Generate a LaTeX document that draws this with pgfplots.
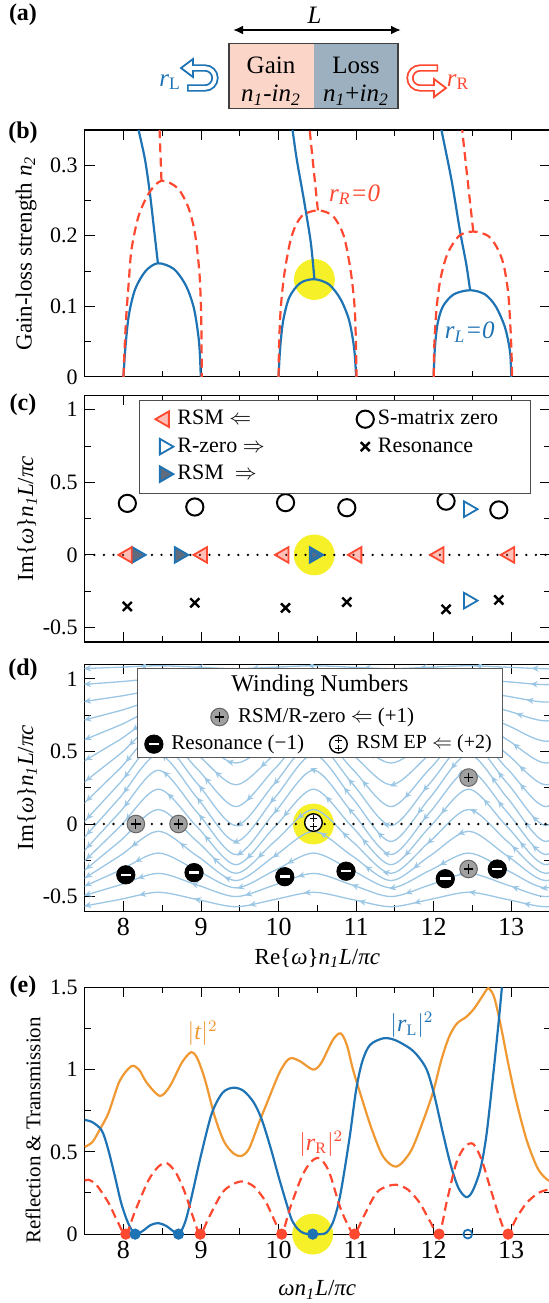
\documentclass[border=0pt]{standalone}
\usepackage{fontspec}
\setmainfont{Liberation Serif}
\usepackage{amsmath}
\usepackage{pgfplots}
\pgfplotsset{compat=1.18}
\usepackage{pgfplotstable}
\usetikzlibrary{arrows.meta,decorations.markings}

\definecolor{cblue}{RGB}{30,115,180}
\definecolor{cred}{RGB}{255,72,48}
\definecolor{corange}{RGB}{240,152,50}
\definecolor{cyel}{RGB}{246,240,40}
\definecolor{cstream}{RGB}{155,198,228}
\definecolor{cgraym}{RGB}{160,160,160}
\definecolor{cdark}{RGB}{95,108,125}
\definecolor{gainc}{RGB}{250,213,200}
\definecolor{lossc}{RGB}{156,176,192}

\newcommand\fs[1]{\fontsize{#1}{#1}\selectfont}

\pgfplotsset{
  panel/.style={
    scale only axis, width=232.65pt, height=123.4pt,
    xmin=7.5, xmax=13.5, xtick={8,9,10,11,12,13}, minor x tick num=1,
    tick align=inside, clip marker paths=true,
    axis line style={line width=0.55pt},
    every tick/.append style={black, line width=0.5pt},
    major tick length=5pt, minor tick length=3pt,
    /pgf/number format/assume math mode=true,
    yticklabel style={font=\fs{11}},
    xticklabel style={font=\fs{13}},
    ylabel style={font=\fs{11.5}, at={(axis description cs:-0.125,0.5)}, anchor=center},
    xlabel style={font=\fs{11.5}, anchor=center},
  },
  yellowdot/.style={only marks, mark=*, mark size=10pt, color=cyel, forget plot},
  bl/.style={cblue, line width=1.1pt, smooth, no markers, forget plot},
  rd/.style={cred, line width=1.1pt, smooth, no markers, forget plot, dash pattern=on 4.5pt off 2.6pt},
  zeroline/.style={black, line width=1.3pt, dash pattern=on 0pt off 4.8pt, line cap=round, no markers, forget plot},
  rsmL/.style={only marks, mark=triangle*, mark size=4.5pt,
    mark options={rotate=90, draw=cred, fill=cred, fill opacity=0.35, line width=0.9pt}},
  rzero/.style={only marks, mark=triangle*, mark size=4.5pt,
    mark options={rotate=-90, draw=cblue, fill=white, line width=0.9pt}},
  rsmR/.style={only marks, mark=triangle*, mark size=4.5pt,
    mark options={rotate=-90, draw=cblue, fill=cdark, line width=0.9pt}},
  szero/.style={only marks, mark=o, mark size=4.3pt, mark options={draw=black, line width=1pt}},
  reson/.style={only marks, mark=x, mark size=3.2pt, mark options={draw=black, line width=1.2pt}},
  wplus/.style={only marks, mark=*, mark size=4.4pt, forget plot,
    mark options={fill=cgraym, draw=black!60, line width=0.5pt}},
  wplusin/.style={only marks, mark=+, mark size=2.4pt, forget plot, mark options={black, line width=0.6pt}},
  wres/.style={only marks, mark=*, mark size=4.6pt, black, forget plot},
  wresin/.style={only marks, mark=-, mark size=2.6pt, forget plot, mark options={white, line width=1.3pt}},
  wep/.style={only marks, mark=*, mark size=4.4pt, forget plot, mark options={fill=white, draw=black, line width=0.7pt}},
  wepup/.style={only marks, mark=+, mark size=1.6pt, forget plot, mark options={black, line width=0.4pt, yshift=2pt}},
  wepdn/.style={only marks, mark=+, mark size=1.6pt, forget plot, mark options={black, line width=0.4pt, yshift=-2pt}},
  stream/.style={cstream, line width=0.65pt, smooth, no markers, forget plot,
    postaction={decorate}, decoration={markings,
      mark=between positions 0.02 and 0.99 step 28pt with {\arrow{Stealth[length=3.4pt,width=3.2pt,reversed]}}}},
}

% streamlines of the phase field (read off by eye: crest/trough levels)
\pgfplotstableread{
x     l1   l2   l3   l4   l5   l6   l7   l8   l9    l10   l11   l12   l13   l14   l15   l16   l17
7.45  1.07 0.96 0.84 0.71 0.57 0.42 0.27 0.12 -0.01 -0.12 -0.21 -0.28 -0.34 -0.39 -0.44 -0.50 -0.57
7.95  1.08 0.98 0.88 0.78 0.68 0.58 0.48 0.38 0.28  0.18  0.08 -0.02 -0.12 -0.22 -0.32 -0.42 -0.52
8.45  1.09 1.00 0.92 0.85 0.79 0.74 0.69 0.64 0.57  0.48  0.37  0.24  0.10 -0.05 -0.20 -0.34 -0.47
8.95  1.08 0.98 0.88 0.78 0.68 0.58 0.48 0.38 0.28  0.18  0.08 -0.02 -0.12 -0.22 -0.32 -0.42 -0.52
9.45  1.07 0.96 0.84 0.71 0.57 0.42 0.27 0.12 -0.01 -0.12 -0.21 -0.28 -0.34 -0.39 -0.44 -0.50 -0.57
9.95  1.08 0.98 0.88 0.78 0.68 0.58 0.48 0.38 0.28  0.18  0.08 -0.02 -0.12 -0.22 -0.32 -0.42 -0.52
10.45 1.09 1.00 0.92 0.85 0.79 0.74 0.69 0.64 0.57  0.48  0.37  0.24  0.10 -0.05 -0.20 -0.34 -0.47
10.95 1.08 0.98 0.88 0.78 0.68 0.58 0.48 0.38 0.28  0.18  0.08 -0.02 -0.12 -0.22 -0.32 -0.42 -0.52
11.45 1.07 0.96 0.84 0.71 0.57 0.42 0.27 0.12 -0.01 -0.12 -0.21 -0.28 -0.34 -0.39 -0.44 -0.50 -0.57
11.95 1.08 0.98 0.88 0.78 0.68 0.58 0.48 0.38 0.28  0.18  0.08 -0.02 -0.12 -0.22 -0.32 -0.42 -0.52
12.45 1.09 1.00 0.92 0.85 0.79 0.74 0.69 0.64 0.57  0.48  0.37  0.24  0.10 -0.05 -0.20 -0.34 -0.47
12.95 1.08 0.98 0.88 0.78 0.68 0.58 0.48 0.38 0.28  0.18  0.08 -0.02 -0.12 -0.22 -0.32 -0.42 -0.52
13.45 1.07 0.96 0.84 0.71 0.57 0.42 0.27 0.12 -0.01 -0.12 -0.21 -0.28 -0.34 -0.39 -0.44 -0.50 -0.57
13.95 1.08 0.98 0.88 0.78 0.68 0.58 0.48 0.38 0.28  0.18  0.08 -0.02 -0.12 -0.22 -0.32 -0.42 -0.52
}\streamtab

\begin{document}
\begin{tikzpicture}

% ---------- panel (a): schematic, in image pixels ----------
\begin{scope}[x=0.5pt,y=-0.5pt]
  \node[font=\fs{12}\bfseries] at (23,15) {(a)};
  \draw[line width=1pt, {Latex[length=5pt,width=4.5pt]}-{Latex[length=5pt,width=4.5pt]}] (233,30) -- (401,30);
  \node[font=\fs{12.5}] at (314.6,15) {\textit{L}};
  \fill[gainc] (229,43.3) rectangle (313.5,108.3);
  \fill[lossc] (313.5,43.3) rectangle (398,108.3);
  \draw[black!75, line width=0.6pt] (229,43.3) rectangle (398,108.3);
  \node[font=\fs{12.5}] at (271,65) {Gain};
  \node[font=\fs{12.5}] at (271,95) {\textit{n}\textsubscript{\textit{1}}-\textit{in}\textsubscript{\textit{2}}};
  \node[font=\fs{12.5}] at (356,65) {Loss};
  \node[font=\fs{12.5}] at (356,95) {\textit{n}\textsubscript{\textit{1}}+\textit{in}\textsubscript{\textit{2}}};
  % r_L hollow u-turn arrow
  \draw[cblue, line width=3.6pt] (187,88) -- (205,88) arc[start angle=90, end angle=-90, radius=10] -- (193,68);
  \draw[white, line width=1.8pt] (188.5,88) -- (205,88) arc[start angle=90, end angle=-90, radius=10] -- (194,68);
  \filldraw[fill=white, draw=cblue, line width=0.9pt] (181,68) -- (193,59) -- (193,77) -- cycle;
  \draw[white, line width=1.8pt] (192.3,68) -- (196,68);
  \node[cblue, font=\fs{12.5}] at (170,82) {\textit{r}\textsubscript{L}};
  % r_R hollow u-turn arrow
  \draw[cred, line width=3.6pt] (438,68) -- (420,68) arc[start angle=-90, end angle=-270, radius=10] -- (434,88);
  \draw[white, line width=1.8pt] (436.5,68) -- (420,68) arc[start angle=-90, end angle=-270, radius=10] -- (433,88);
  \filldraw[fill=white, draw=cred, line width=0.9pt] (446,88) -- (434,79) -- (434,97) -- cycle;
  \draw[white, line width=1.8pt] (430,88) -- (434.7,88);
  \node[cred, font=\fs{12.5}] at (458,82) {\textit{r}\textsubscript{R}};
  % panel letters
  \node[font=\fs{12}\bfseries] at (23,133) {(b)};
  \node[font=\fs{12}\bfseries] at (23,405) {(c)};
  \node[font=\fs{12}\bfseries] at (23,670) {(d)};
  \node[font=\fs{12}\bfseries] at (23,987) {(e)};
\end{scope}

% ---------- panel (b) ----------
\begin{axis}[panel, at={(42.35pt,-65pt)}, anchor=north west,
  ymin=0, ymax=0.35, ytick={0,0.1,0.2,0.3}, minor y tick num=1,
  xticklabels={},
  ylabel={Gain-loss strength \textit{n}\textsubscript{\textit{2}}},
  ylabel style={at={(axis description cs:-0.126,0.5)}}]
  \addplot[yellowdot] coordinates {(10.462,0.138)};
  % r_L = 0
  \addplot[bl] coordinates {(8.0,0) (8.023,0.039) (8.068,0.0865) (8.15,0.124) (8.286,0.150) (8.444,0.161)
    (8.648,0.153) (8.807,0.129) (8.911,0.0959) (8.975,0.0487) (8.997,0)};
  \addplot[bl] coordinates {(8.444,0.161) (8.399,0.2046) (8.34,0.261) (8.277,0.3085) (8.195,0.35) (8.177,0.36)};
  \addplot[bl] coordinates {(10.0,0) (10.02,0.04) (10.06,0.08) (10.14,0.113) (10.28,0.133) (10.462,0.1384)
    (10.65,0.131) (10.8,0.11) (10.91,0.08) (10.975,0.04) (11.0,0)};
  \addplot[bl] coordinates {(10.462,0.1384) (10.416,0.19) (10.325,0.252) (10.235,0.308) (10.18,0.35) (10.162,0.36)};
  \addplot[bl] coordinates {(12.0,0) (12.015,0.04) (12.05,0.075) (12.12,0.1) (12.26,0.117) (12.47,0.1228)
    (12.66,0.117) (12.8,0.1) (12.92,0.07) (12.985,0.035) (13.0,0)};
  \addplot[bl] coordinates {(12.47,0.1228) (12.42,0.16) (12.339,0.207) (12.232,0.278) (12.10,0.35) (12.08,0.36)};
  % r_R = 0
  \addplot[rd] coordinates {(8.0,0) (8.014,0.039) (8.036,0.0865) (8.068,0.134) (8.104,0.181) (8.195,0.228)
    (8.331,0.261) (8.49,0.278) (8.694,0.268) (8.83,0.242) (8.92,0.2046) (8.979,0.148) (9.002,0.0865) (9.01,0)};
  \addplot[rd] coordinates {(8.49,0.278) (8.467,0.346) (8.465,0.36)};
  \addplot[rd] coordinates {(10.0,0) (10.008,0.05) (10.03,0.1) (10.08,0.15) (10.17,0.2) (10.3,0.228)
    (10.507,0.236) (10.7,0.228) (10.84,0.2) (10.93,0.15) (10.98,0.1) (10.997,0.05) (11.005,0)};
  \addplot[rd] coordinates {(10.507,0.236) (10.407,0.344) (10.40,0.36)};
  \addplot[rd] coordinates {(12.0,0) (12.01,0.05) (12.04,0.1) (12.09,0.14) (12.18,0.175) (12.33,0.2)
    (12.511,0.206) (12.7,0.2) (12.813,0.184) (12.9,0.16) (12.96,0.12) (12.99,0.07) (13.005,0.03) (13.01,0)};
  \addplot[rd] coordinates {(12.511,0.206) (12.374,0.344) (12.37,0.36)};
  \node[cred, font=\fs{12.5}] at (axis cs:10.98,0.258) {\textit{r}\textsubscript{\textit{R}}\textit{=0}};
  \node[cblue, font=\fs{12.5}] at (axis cs:12.465,0.063) {\textit{r}\textsubscript{\textit{L}}\textit{=0}};
\end{axis}

% ---------- panel (c) ----------
\begin{axis}[panel, at={(42.35pt,-197.6pt)}, anchor=north west,
  ymin=-0.6, ymax=1.1, ytick={-0.5,0,0.5,1}, minor y tick num=1,
  xticklabels={},
  ylabel={Im\{\textit{ω}\}\textit{n}\textsubscript{\textit{1}}\textit{L}/\textit{πc}},
  ylabel style={at={(axis description cs:-0.124,0.5)}},
  legend columns=2, legend cell align=left,
  legend style={at={(0.1167,0.9806)}, anchor=north west, draw=black!70, fill=white,
    font=\fs{11}, inner xsep=8pt, inner ysep=3pt, row sep=1pt,
    /tikz/every even column/.append style={column sep=44pt}}]
  \addlegendimage{rsmL}  \addlegendentry{RSM $\Leftarrow$}
  \addlegendimage{szero} \addlegendentry{S-matrix zero\hspace*{6pt}}
  \addlegendimage{rzero} \addlegendentry{R-zero $\Rightarrow$}
  \addlegendimage{reson} \addlegendentry{Resonance}
  \addlegendimage{rsmR}  \addlegendentry{RSM \ $\Rightarrow$}
  \addplot[yellowdot] coordinates {(10.46,0)};
  \addplot[zeroline] coordinates {(7.5,0) (13.5,0)};
  \addplot[szero, forget plot] coordinates {(8.05,0.355) (8.92,0.33) (10.09,0.36) (10.88,0.325) (12.16,0.37) (12.84,0.31)};
  \addplot[reson, forget plot] coordinates {(8.05,-0.355) (8.92,-0.33) (10.09,-0.365) (10.88,-0.325) (12.16,-0.375) (12.84,-0.31)};
  \addplot[rzero, forget plot] coordinates {(12.45,0.315) (12.45,-0.315)};
  \addplot[rsmR, forget plot] coordinates {(8.17,0) (8.72,0) (10.46,0)};
  \addplot[rsmL, forget plot] coordinates {(8.05,0) (9.02,0) (10.07,0) (11.01,0) (12.07,0) (12.98,0)};
  \addplot[only marks, mark=triangle*, mark size=2.4pt, forget plot,
    mark options={rotate=-90, draw=cblue, fill=cdark, line width=0.6pt}] coordinates {(10.46,0)};
\end{axis}

% ---------- panel (d) ----------
\begin{axis}[panel, at={(42.35pt,-332.15pt)}, anchor=north west,
  ymin=-0.6, ymax=1.1, ytick={-0.5,0,0.5,1}, minor y tick num=1,
  ylabel={Im\{\textit{ω}\}\textit{n}\textsubscript{\textit{1}}\textit{L}/\textit{πc}},
  ylabel style={at={(axis description cs:-0.124,0.5)}},
  xlabel={Re\{\textit{ω}\}\textit{n}\textsubscript{\textit{1}}\textit{L}/\textit{πc}},
  xlabel style={at={(axis description cs:0.5,-0.19)}}]
  \addplot[yellowdot] coordinates {(10.45,0)};
  \pgfplotsinvokeforeach{1,...,17}{
    \addplot[stream] table[x=x, y=l#1] {\streamtab};
  }
  \addplot[zeroline] coordinates {(7.5,0) (13.5,0)};
  % RSM / R-zero (+1)
  \addplot[wplus] coordinates {(8.16,0) (8.71,0) (12.45,0.32) (12.45,-0.31)};
  \addplot[wplusin] coordinates {(8.16,0) (8.71,0) (12.45,0.32) (12.45,-0.31)};
  % resonances (-1)
  \addplot[wres] coordinates {(8.03,-0.35) (8.91,-0.335) (10.08,-0.363) (10.87,-0.325) (12.15,-0.377) (12.82,-0.31)};
  \addplot[wresin] coordinates {(8.03,-0.35) (8.91,-0.335) (10.08,-0.363) (10.87,-0.325) (12.15,-0.377) (12.82,-0.31)};
  % RSM EP (+2)
  \addplot[wep] coordinates {(10.45,0.01)};
  \addplot[wepup] coordinates {(10.45,0.01)};
  \addplot[wepdn] coordinates {(10.45,0.01)};
  % winding-number key
  \draw[draw=black!65, fill=white, line width=0.5pt] (axis cs:8.18,0.456) rectangle (axis cs:12.89,1.073);
  \node[font=\fs{12}] at (axis cs:10.534,0.949) {Winding Numbers};
  \addplot[wplus] coordinates {(9.239,0.737)};
  \addplot[wplusin] coordinates {(9.239,0.737)};
  \addplot[wres] coordinates {(8.392,0.55)};
  \addplot[wresin] coordinates {(8.392,0.55)};
  \addplot[wep] coordinates {(10.772,0.55)};
  \addplot[wepup] coordinates {(10.772,0.55)};
  \addplot[wepdn] coordinates {(10.772,0.55)};
  \node[anchor=west, inner sep=0pt, font=\fs{10.5}] at (axis cs:9.474,0.737) {RSM/R-zero $\Leftarrow$ (+1)};
  \node[anchor=west, inner sep=0pt, font=\fs{10.5}] at (axis cs:8.614,0.55) {Resonance (−1)};
  \node[anchor=west, inner sep=0pt, font=\fs{10}] at (axis cs:11.0,0.55) {RSM EP $\Leftarrow$ (+2)};
\end{axis}

% ---------- panel (e) ----------
\begin{axis}[panel, at={(42.35pt,-493.65pt)}, anchor=north west, clip=false,
  ymin=0, ymax=1.5, ytick={0,0.5,1,1.5}, minor y tick num=1,
  ylabel={Reflection \& Transmission},
  ylabel style={font=\fs{10.5}, at={(axis description cs:-0.111,0.42)}},
  xlabel={\textit{ωn}\textsubscript{\textit{1}}\textit{L}/\textit{πc}},
  xlabel style={at={(axis description cs:0.5,-0.2255)}}]
  \addplot[yellowdot] coordinates {(10.44,0)};
  % |t|^2
  \addplot[corange, line width=1.1pt, smooth, no markers, forget plot] coordinates {
    (7.5,0.53) (7.6,0.56) (7.7,0.64) (7.81,0.74) (7.95,0.93) (8.1,1.02) (8.2,1.0) (8.3,0.92)
    (8.47,0.84) (8.6,0.9) (8.75,1.04) (8.87,1.105) (8.95,1.07) (9.05,0.94) (9.18,0.71) (9.3,0.56)
    (9.42,0.49) (9.52,0.475) (9.62,0.52) (9.75,0.68) (9.87,0.82) (10.0,0.97) (10.1,1.05) (10.17,1.07)
    (10.28,1.05) (10.446,1.0) (10.55,1.04) (10.7,1.18) (10.8,1.22) (10.88,1.15) (10.96,1.0) (11.05,0.86)
    (11.2,0.64) (11.35,0.47) (11.52,0.41) (11.7,0.5) (11.85,0.67) (11.99,0.86) (12.1,1.06) (12.2,1.2)
    (12.3,1.28) (12.42,1.32) (12.52,1.37) (12.62,1.44) (12.69,1.49) (12.72,1.49) (12.78,1.44) (12.86,1.28) (12.96,1.04)
    (13.07,0.8) (13.2,0.57) (13.33,0.41) (13.42,0.35) (13.5,0.32)};
  % |r_L|^2
  \addplot[bl] coordinates {
    (7.5,0.694) (7.6,0.68) (7.72,0.63) (7.8,0.52) (7.89,0.35) (7.97,0.19) (8.06,0.067) (8.15,0.0)
    (8.25,0.02) (8.35,0.055) (8.45,0.067) (8.55,0.05) (8.65,0.015) (8.72,0.0) (8.8,0.08) (8.88,0.23)
    (9.0,0.48) (9.14,0.735) (9.28,0.86) (9.42,0.89) (9.55,0.87) (9.68,0.8) (9.785,0.694) (9.9,0.52)
    (10.0,0.35) (10.1,0.19) (10.17,0.087) (10.25,0.03) (10.33,0.005) (10.44,0.0) (10.55,0.0) (10.62,0.01)
    (10.7,0.07) (10.77,0.18) (10.83,0.33) (10.92,0.6) (11.0,0.876) (11.08,1.05) (11.18,1.15) (11.35,1.19)
    (11.5,1.18) (11.69,1.13) (11.8,1.08) (11.91,1.0) (12.0,0.86) (12.12,0.613) (12.22,0.42) (12.32,0.28)
    (12.42,0.225) (12.5,0.26) (12.6,0.39) (12.68,0.6) (12.77,0.978) (12.84,1.3) (12.88,1.5)};
  % |r_R|^2
  \addplot[rd] coordinates {
    (7.5,0.325) (7.55,0.33) (7.65,0.3) (7.81,0.188) (7.92,0.08) (8.03,0.0) (8.15,0.14) (8.32,0.325)
    (8.45,0.41) (8.56,0.431) (8.68,0.37) (8.795,0.249) (8.9,0.1) (8.99,0.0) (9.1,0.1) (9.27,0.249)
    (9.4,0.3) (9.53,0.32) (9.68,0.29) (9.83,0.2) (9.95,0.08) (10.04,0.0) (10.15,0.16) (10.3,0.35)
    (10.42,0.44) (10.53,0.461) (10.65,0.38) (10.79,0.168) (10.9,0.05) (10.98,0.0) (11.1,0.11) (11.26,0.25)
    (11.4,0.29) (11.52,0.30) (11.67,0.27) (11.82,0.19) (11.95,0.08) (12.07,0.0) (12.17,0.2) (12.29,0.43)
    (12.4,0.53) (12.51,0.548) (12.62,0.45) (12.73,0.28) (12.85,0.1) (12.95,0.0) (13.07,0.1) (13.2,0.19)
    (13.35,0.25) (13.47,0.27) (13.5,0.275)};
  \addplot[only marks, mark=*, mark size=2.6pt, cred, forget plot]
    coordinates {(8.03,0) (8.99,0) (10.04,0) (10.98,0) (12.07,0) (12.96,0)};
  \addplot[only marks, mark=*, mark size=2.6pt, cblue, forget plot]
    coordinates {(8.15,0) (8.71,0) (10.44,0)};
  \addplot[only marks, mark=o, mark size=2.2pt, forget plot,
    mark options={draw=cblue, fill=white, line width=0.9pt}] coordinates {(12.44,0)};
  \node[corange, font=\fs{12}] at (axis cs:9.02,1.22) {$|\text{\textit{t}}|^{2}$};
  \node[cblue, font=\fs{12}] at (axis cs:11.72,1.27) {$|\text{\textit{r}}_{\text{L}}|^{2}$};
  \node[cred, font=\fs{12}] at (axis cs:10.55,0.55) {$|\text{\textit{r}}_{\text{R}}|^{2}$};
\end{axis}

\pgfresetboundingbox
\useasboundingbox (0,0) rectangle (274pt,-651.5pt);
\end{tikzpicture}
\end{document}
